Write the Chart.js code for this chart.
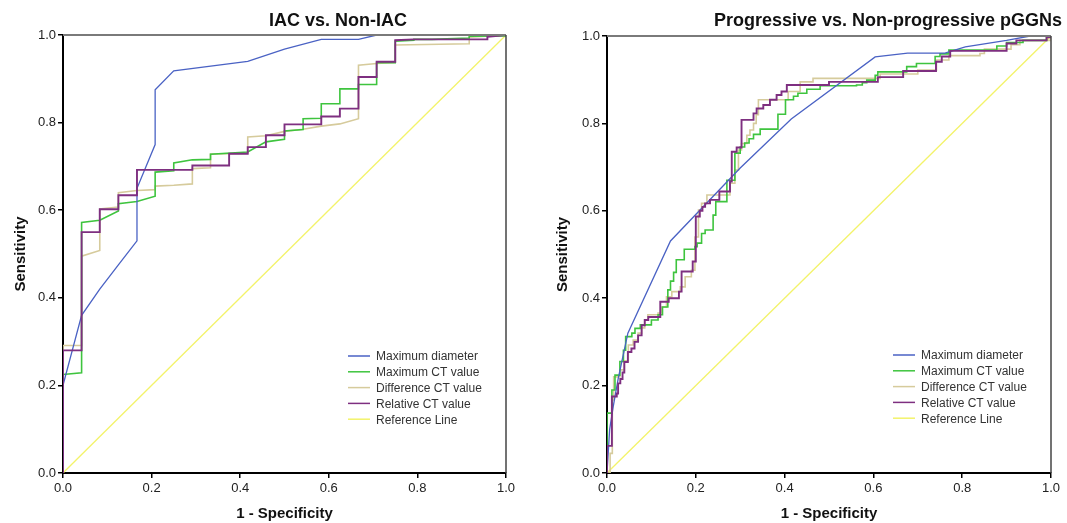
<!DOCTYPE html>
<html>
<head>
<meta charset="utf-8">
<script src="https://cdn.jsdelivr.net/npm/chart.js@4"></script>
<style>
  body { margin: 0; background: #fff; }
  #wrap { position: relative; width: 1067px; height: 523px; overflow: hidden; }
  .panel { position: absolute; top: 0; }
</style>
</head>
<body>
<div id="wrap">
  <canvas id="leftChart" class="panel" width="533" height="523" style="left:0"></canvas>
  <canvas id="rightChart" class="panel" width="534" height="523" style="left:533px"></canvas>
</div>
<script>
// Series names (legend order)
const seriesNames = ["Maximum diameter", "Maximum CT value", "Difference CT value", "Relative CT value", "Reference Line"];
const seriesColors = ["#4a62c4", "#3ec43e", "#d6cb9c", "#7e2f80", "#f3f36a"];
const tickValues = [0, 0.2, 0.4, 0.6, 0.8, 1.0];

// IAC vs. Non-IAC  -> [1 - specificity, sensitivity]
const iacDiameter = [[0,0],[0,0.2],[0.042,0.36],[0.083,0.42],[0.125,0.475],[0.167,0.53],[0.167,0.65],[0.208,0.75],[0.208,0.875],[0.25,0.918],[0.417,0.94],[0.5,0.968],[0.583,0.99],[0.667,0.99],[0.708,1],[1,1]];
const iacMaxCT = [[0,0],[0,0.225],[0.042,0.229],[0.042,0.572],[0.083,0.577],[0.125,0.598],[0.125,0.615],[0.167,0.62],[0.208,0.632],[0.208,0.687],[0.25,0.69],[0.25,0.708],[0.292,0.715],[0.333,0.716],[0.333,0.728],[0.417,0.733],[0.458,0.756],[0.5,0.762],[0.5,0.781],[0.542,0.784],[0.542,0.809],[0.583,0.81],[0.583,0.843],[0.625,0.843],[0.625,0.877],[0.667,0.877],[0.667,0.887],[0.708,0.887],[0.708,0.937],[0.75,0.937],[0.75,0.986],[0.792,0.988],[0.792,0.99],[0.833,0.99],[0.917,0.993],[0.917,0.997],[1,0.998],[1,1]];
const iacDiffCT = [[0,0],[0,0.291],[0.042,0.291],[0.042,0.495],[0.083,0.508],[0.083,0.603],[0.125,0.607],[0.125,0.64],[0.167,0.645],[0.208,0.647],[0.208,0.655],[0.25,0.657],[0.292,0.66],[0.292,0.695],[0.333,0.697],[0.333,0.728],[0.417,0.73],[0.417,0.767],[0.458,0.77],[0.5,0.78],[0.542,0.785],[0.583,0.792],[0.625,0.797],[0.667,0.809],[0.667,0.931],[0.708,0.935],[0.75,0.937],[0.75,0.977],[0.917,0.98],[0.917,0.995],[1,1]];
const iacRelCT = [[0,0],[0,0.28],[0.042,0.28],[0.042,0.55],[0.083,0.55],[0.083,0.602],[0.125,0.602],[0.125,0.634],[0.167,0.634],[0.167,0.692],[0.292,0.692],[0.292,0.702],[0.375,0.702],[0.375,0.729],[0.417,0.729],[0.417,0.744],[0.458,0.744],[0.458,0.771],[0.5,0.771],[0.5,0.796],[0.583,0.796],[0.583,0.814],[0.625,0.814],[0.625,0.832],[0.667,0.832],[0.667,0.904],[0.708,0.904],[0.708,0.939],[0.75,0.939],[0.75,0.988],[0.792,0.99],[0.958,0.99],[0.958,0.996],[1,1]];

// Progressive vs. Non-progressive pGGNs (step curves: at x the curve rises to y)
const pggnDiameter = [[0,0],[0.003,0.05],[0.006,0.1],[0.014,0.152],[0.025,0.215],[0.047,0.32],[0.143,0.531],[0.3,0.698],[0.415,0.81],[0.604,0.952],[0.677,0.961],[0.761,0.961],[0.807,0.975],[0.9,0.99],[0.953,1],[1,1]];
const pggnMaxCT = [[0,0],[0,0.137],[0.011,0.19],[0.018,0.224],[0.029,0.255],[0.037,0.281],[0.042,0.312],[0.056,0.32],[0.063,0.331],[0.075,0.339],[0.1,0.35],[0.115,0.362],[0.125,0.38],[0.137,0.419],[0.143,0.439],[0.15,0.459],[0.156,0.488],[0.174,0.512],[0.198,0.518],[0.203,0.526],[0.213,0.548],[0.221,0.556],[0.239,0.59],[0.245,0.621],[0.27,0.67],[0.288,0.732],[0.3,0.746],[0.31,0.755],[0.32,0.765],[0.33,0.775],[0.345,0.787],[0.385,0.821],[0.402,0.854],[0.42,0.862],[0.43,0.869],[0.45,0.878],[0.48,0.886],[0.562,0.888],[0.575,0.893],[0.585,0.899],[0.604,0.91],[0.61,0.918],[0.675,0.93],[0.697,0.937],[0.739,0.953],[0.75,0.959],[0.77,0.968],[0.878,0.977],[0.9,0.985],[0.937,0.99],[0.99,0.998],[1,1]];
const pggnDiffCT = [[0,0],[0.007,0.045],[0.012,0.167],[0.015,0.22],[0.029,0.236],[0.039,0.257],[0.048,0.293],[0.059,0.304],[0.07,0.32],[0.078,0.332],[0.085,0.35],[0.092,0.362],[0.115,0.366],[0.122,0.38],[0.134,0.403],[0.146,0.415],[0.165,0.426],[0.176,0.449],[0.19,0.464],[0.198,0.54],[0.206,0.602],[0.213,0.617],[0.225,0.636],[0.277,0.663],[0.288,0.693],[0.296,0.739],[0.303,0.754],[0.315,0.773],[0.322,0.785],[0.33,0.8],[0.336,0.82],[0.341,0.854],[0.408,0.873],[0.435,0.895],[0.464,0.903],[0.615,0.913],[0.7,0.922],[0.742,0.945],[0.77,0.955],[0.84,0.96],[0.85,0.97],[0.91,0.98],[0.93,0.99],[1,1]];
const pggnRelCT = [[0,0],[0,0.062],[0.011,0.175],[0.022,0.182],[0.025,0.205],[0.03,0.215],[0.035,0.23],[0.039,0.254],[0.047,0.277],[0.055,0.285],[0.062,0.3],[0.07,0.315],[0.078,0.338],[0.085,0.35],[0.093,0.357],[0.12,0.392],[0.139,0.4],[0.162,0.415],[0.168,0.461],[0.193,0.484],[0.2,0.587],[0.209,0.6],[0.215,0.609],[0.221,0.617],[0.232,0.625],[0.253,0.644],[0.277,0.667],[0.281,0.735],[0.292,0.745],[0.303,0.808],[0.33,0.823],[0.337,0.834],[0.352,0.842],[0.367,0.854],[0.382,0.865],[0.393,0.873],[0.405,0.888],[0.5,0.895],[0.61,0.906],[0.667,0.92],[0.741,0.941],[0.754,0.953],[0.773,0.966],[0.9,0.983],[0.922,0.99],[0.99,0.997],[1,1]];

const referenceLine = [[0,0],[1,1]];

const FONT = "'Liberation Sans', Arial, sans-serif";

// title drawn at a fixed spot, SPSS puts it off-centre
const panelTitle = {
  id: "panelTitle",
  afterDraw(chart, args, opts) {
    const ctx = chart.ctx;
    ctx.save();
    ctx.font = "bold 18px " + FONT;
    ctx.fillStyle = "#111";
    ctx.textAlign = "center";
    ctx.textBaseline = "middle";
    ctx.fillText(opts.text, opts.x, opts.y);
    ctx.restore();
  }
};

// top / right frame lines
const plotFrame = {
  id: "plotFrame",
  afterDatasetsDraw(chart) {
    const { ctx, chartArea: a } = chart;
    ctx.save();
    ctx.lineWidth = 2;
    ctx.strokeStyle = "#7a7a7a";
    ctx.beginPath();
    ctx.moveTo(a.left, a.top);
    ctx.lineTo(a.right, a.top);
    ctx.stroke();
    ctx.lineWidth = 1.5;
    ctx.strokeStyle = "#444";
    ctx.beginPath();
    ctx.moveTo(a.right, a.top);
    ctx.lineTo(a.right, a.bottom);
    ctx.stroke();
    ctx.restore();
  }
};

// legend inside the plot, lower right
const insideLegend = {
  id: "insideLegend",
  afterDraw(chart, args, opts) {
    const ctx = chart.ctx;
    ctx.save();
    ctx.font = "12px " + FONT;
    ctx.textBaseline = "middle";
    chart.data.datasets.forEach((ds, i) => {
      const y = opts.y + i * opts.rowH;
      ctx.strokeStyle = ds.borderColor;
      ctx.lineWidth = 1.5;
      ctx.beginPath();
      ctx.moveTo(opts.x, y);
      ctx.lineTo(opts.x + opts.lineLen, y);
      ctx.stroke();
      ctx.fillStyle = "#333";
      ctx.fillText(ds.label, opts.x + opts.lineLen + 6, y + 1);
    });
    ctx.restore();
  }
};

const makeDatasets = (series, stepped) => {
  const order = [1, 2, 3, 0, 4];
  const widths = [1.3, 1.6, 1.6, 1.9, 1.3];
  return series.map((pts, i) => ({
    label: seriesNames[i],
    data: pts.map(([x, y]) => ({ x, y })),
    showLine: true,
    borderColor: seriesColors[i],
    backgroundColor: seriesColors[i],
    borderWidth: widths[i],
    pointRadius: 0,
    // horizontal first, then up
    stepped: stepped && i > 0 && i < 4 ? "before" : false,
    order: order[i],
  }));
};

const makeChart = (canvasId, series, stepped, cfg) => {
  const ctx = document.getElementById(canvasId).getContext("2d");
  return new Chart(ctx, {
    type: "scatter",
    data: { datasets: makeDatasets(series, stepped) },
    plugins: [panelTitle, plotFrame, insideLegend],
    options: {
      responsive: false,
      animation: false,
      layout: { padding: { left: 0, right: cfg.padRight, top: cfg.top, bottom: 0 } },
      scales: {
        x: {
          type: "linear",
          min: 0,
          max: 1,
          afterFit: (scale) => { scale.height = 523 - cfg.bottom; },
          afterBuildTicks: (scale) => { scale.ticks = tickValues.map((v) => ({ value: v })); },
          ticks: {
            callback: (v) => v.toFixed(1),
            font: { family: FONT, size: 13 },
            color: "#222",
            padding: 3,
            maxRotation: 0,
          },
          grid: { drawOnChartArea: false, drawTicks: true, tickLength: 5, color: "#000", lineWidth: 1.5 },
          border: { display: true, color: "#000", width: 2 },
          title: {
            display: true,
            text: "1 - Specificity",
            font: { family: FONT, size: 15, weight: "bold" },
            color: "#111",
            padding: { top: 0, bottom: 0 },
          },
        },
        y: {
          type: "linear",
          min: 0,
          max: 1,
          afterFit: (scale) => { scale.width = cfg.left; },
          afterBuildTicks: (scale) => { scale.ticks = tickValues.map((v) => ({ value: v })); },
          ticks: {
            callback: (v) => v.toFixed(1),
            font: { family: FONT, size: 13 },
            color: "#222",
            padding: 2,
          },
          grid: { drawOnChartArea: false, drawTicks: true, tickLength: 5, color: "#000", lineWidth: 1.5 },
          border: { display: true, color: "#000", width: 2 },
          title: {
            display: true,
            text: "Sensitivity",
            font: { family: FONT, size: 15, weight: "bold" },
            color: "#111",
            padding: { top: cfg.yTitlePad, bottom: 0 },
          },
        },
      },
      plugins: {
        legend: { display: false },
        tooltip: { enabled: false },
        panelTitle: { text: cfg.title, x: cfg.titleX, y: 21 },
        insideLegend: { x: cfg.legendX, y: cfg.legendY, lineLen: 22, rowH: 15.8 },
      },
    },
  });
};

makeChart("leftChart", [iacDiameter, iacMaxCT, iacDiffCT, iacRelCT, referenceLine], false, {
  title: "IAC vs. Non-IAC",
  titleX: 338,
  left: 63,
  padRight: 27,
  top: 35,
  bottom: 473,
  yTitlePad: 12,
  legendX: 348,
  legendY: 356,
});

makeChart("rightChart", [pggnDiameter, pggnMaxCT, pggnDiffCT, pggnRelCT, referenceLine], true, {
  title: "Progressive vs. Non-progressive pGGNs",
  titleX: 355,
  left: 74,
  padRight: 16,
  top: 36,
  bottom: 473,
  yTitlePad: 21,
  legendX: 360,
  legendY: 355,
});
</script>
</body>
</html>
